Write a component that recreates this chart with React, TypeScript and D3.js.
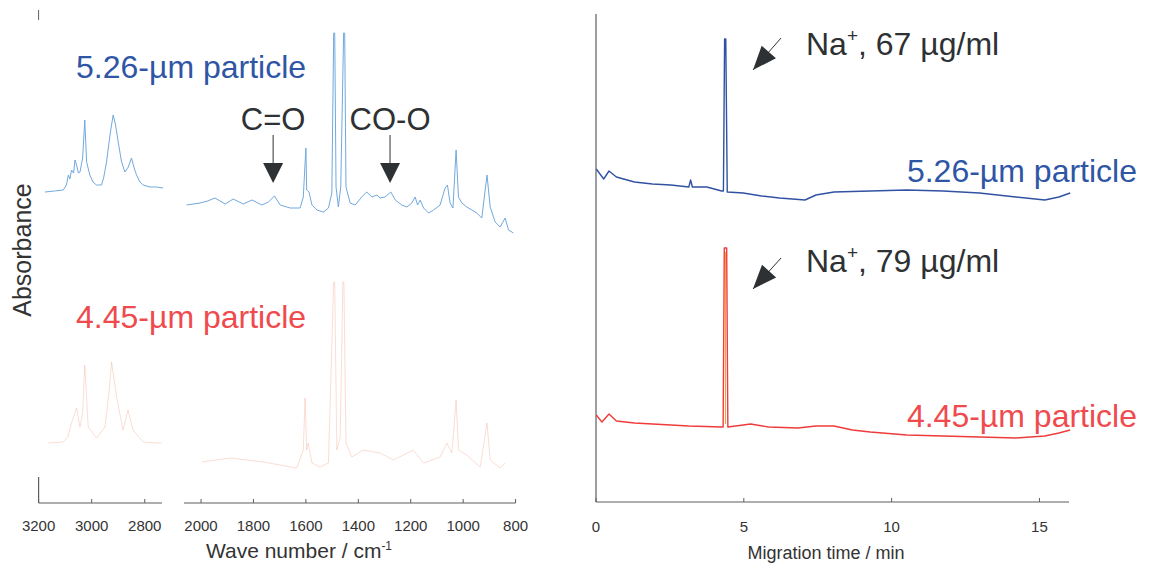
import React from 'react';
import * as d3 from 'd3';

const W = 1149;
const H = 570;
const FONT = '"Liberation Sans", Arial, Helvetica, sans-serif';

// ---- tick labels ----
const IR_TICKS_HIGH = [3200, 3000, 2800];
const IR_TICKS_LOW = [2000, 1800, 1600, 1400, 1200, 1000, 800];
const CE_TICKS = [0, 5, 10, 15];

// ---- IR spectra: [wave number cm-1, absorbance (offset, arb. units)] ----
const IR_BLUE_HIGH: [number, number][] = [
  [3176, 3.11], [3140, 3.12], [3107, 3.13], [3095, 3.18], [3088, 3.28], [3082, 3.24],
  [3076, 3.33], [3068, 3.3], [3063, 3.43], [3057, 3.38], [3050, 3.3], [3044, 3.31],
  [3034, 3.45], [3026, 3.83], [3019, 3.41], [3007, 3.28], [2995, 3.21], [2982, 3.18],
  [2963, 3.18], [2955, 3.25], [2944, 3.41], [2930, 3.7], [2919, 3.88], [2910, 3.78],
  [2900, 3.61], [2888, 3.42], [2875, 3.31], [2862, 3.36], [2850, 3.45], [2840, 3.35],
  [2831, 3.28], [2818, 3.21], [2806, 3.18], [2780, 3.16], [2756, 3.16], [2731, 3.15],
];
const IR_BLUE_LOW: [number, number][] = [
  [2055, 2.98], [2004, 3.0], [1975, 3.02], [1947, 3.05], [1908, 2.99], [1877, 3.04],
  [1839, 2.99], [1806, 3.03], [1768, 2.98], [1743, 3.01], [1720, 3.07], [1698, 2.98],
  [1660, 2.95], [1622, 2.95], [1610, 3.06], [1600, 3.55], [1597, 3.13], [1588, 3.11],
  [1577, 2.98], [1558, 2.93], [1533, 2.91], [1514, 2.95], [1501, 3.1], [1494, 4.7],
  [1490, 4.7], [1485, 3.16], [1476, 2.96], [1467, 3.16], [1456, 4.7], [1452, 4.7],
  [1447, 3.16], [1431, 3.0], [1412, 2.98], [1387, 3.06], [1368, 3.11], [1348, 3.06],
  [1329, 3.08], [1317, 3.05], [1298, 3.06], [1276, 3.11], [1259, 3.03], [1234, 2.98],
  [1215, 2.96], [1196, 3.0], [1183, 3.06], [1174, 2.98], [1164, 3.03], [1151, 2.95],
  [1132, 2.9], [1113, 2.93], [1088, 2.98], [1069, 3.15], [1060, 3.18], [1050, 3.0],
  [1039, 2.95], [1027, 3.53], [1018, 3.06], [1005, 3.0], [986, 2.96], [967, 2.93],
  [948, 2.9], [929, 2.85], [909, 3.28], [897, 2.96], [878, 2.81], [859, 2.76],
  [840, 2.85], [827, 2.73], [808, 2.7],
];
const IR_RED_HIGH: [number, number][] = [
  [3164, 0.6], [3107, 0.61], [3090, 0.66], [3076, 0.8], [3057, 0.95], [3044, 0.76],
  [3034, 0.9], [3026, 1.38], [3013, 0.76], [2982, 0.65], [2950, 0.76], [2935, 1.1],
  [2925, 1.41], [2906, 1.06], [2882, 0.73], [2863, 0.93], [2844, 0.73], [2806, 0.61],
  [2756, 0.6], [2737, 0.6],
];
const IR_RED_LOW: [number, number][] = [
  [1997, 0.41], [1889, 0.45], [1826, 0.43], [1762, 0.41], [1698, 0.38], [1635, 0.35],
  [1610, 0.53], [1603, 1.05], [1597, 0.53], [1591, 0.6], [1577, 0.4], [1546, 0.36],
  [1514, 0.4], [1494, 2.21], [1490, 2.21], [1482, 0.53], [1469, 0.66], [1459, 2.21],
  [1455, 2.21], [1447, 0.6], [1425, 0.46], [1380, 0.53], [1317, 0.5], [1266, 0.43],
  [1190, 0.53], [1151, 0.4], [1088, 0.46], [1062, 0.6], [1043, 0.5], [1027, 1.03],
  [1018, 0.53], [986, 0.48], [935, 0.36], [909, 0.8], [897, 0.43], [859, 0.35],
  [840, 0.4],
];

// ---- capillary electrophoresis traces: [migration time min, signal (offset)] ----
const CE_BLUE: [number, number][] = [
  [0.01, 3.33], [0.26, 3.23], [0.44, 3.31], [0.69, 3.25], [1.3, 3.2], [1.91, 3.18],
  [2.53, 3.17], [3.14, 3.15], [3.2, 3.22], [3.26, 3.15], [3.75, 3.15], [4.25, 3.11],
  [4.31, 3.11], [4.35, 4.63], [4.39, 4.63], [4.44, 3.1], [4.98, 3.09], [5.6, 3.06],
  [6.21, 3.04], [7.07, 3.02], [7.44, 3.07], [8.05, 3.1], [9.28, 3.11], [10.51, 3.12],
  [11.74, 3.11], [12.97, 3.09], [14.2, 3.05], [15.18, 3.02], [15.66, 3.05], [16.04, 3.09],
];
const CE_RED: [number, number][] = [
  [0.01, 0.87], [0.2, 0.8], [0.44, 0.88], [0.69, 0.81], [1.3, 0.79], [2.53, 0.77],
  [3.14, 0.76], [4.25, 0.75], [4.3, 0.75], [4.34, 2.54], [4.42, 2.54], [4.46, 0.75],
  [4.98, 0.77], [5.23, 0.78], [5.84, 0.75], [6.83, 0.74], [7.44, 0.76], [8.05, 0.76],
  [8.67, 0.72], [9.28, 0.7], [10.51, 0.67], [11.74, 0.66], [12.97, 0.65], [14.2, 0.64],
  [15.18, 0.66], [15.66, 0.69], [16.04, 0.72],
];

// ---- annotations ----
const IR_MARKERS = [
  { label: 'C=O', wn: 1725 },
  { label: 'CO-O', wn: 1279 },
];
const NA_CONC = ['67 µg/ml', '79 µg/ml'];
// arrow tail/tip in (min, signal)
const NA_ARROWS: [number, number, number, number][] = [
  [6.26, 4.64, 5.31, 4.32],
  [6.26, 2.44, 5.31, 2.13],
];

const BLUE_TEXT = '#2f55a5';
const RED_TEXT = '#ef4a4d';
const DARK = '#2e3133';
const AXIS = '#5a5f60';

export default function App() {
  const xHigh = d3.scaleLinear().domain([3200, 2735]).range([38.6, 162]);
  const xLow = d3.scaleLinear().domain([2065, 800]).range([184, 515.6]);
  const yIR = d3.scaleLinear().domain([0, 5]).range([503, 3]);
  const xCE = d3.scaleLinear().domain([0, 16]).range([596, 1069]);
  const yCE = d3.scaleLinear().domain([0, 5]).range([502, 2]);

  const lineHigh = d3.line<[number, number]>().x(d => xHigh(d[0])).y(d => yIR(d[1]));
  const lineLow = d3.line<[number, number]>().x(d => xLow(d[0])).y(d => yIR(d[1]));
  const lineCE = d3.line<[number, number]>().x(d => xCE(d[0])).y(d => yCE(d[1]));

  const axisY = 503;
  const ceAxisY = 502;

  const arrowHead = (x1: number, y1: number, x2: number, y2: number, len: number, half: number) => {
    const dx = x2 - x1, dy = y2 - y1;
    const L = Math.hypot(dx, dy);
    const ux = dx / L, uy = dy / L;
    const bx = x2 - ux * len, by = y2 - uy * len;
    const px = -uy, py = ux;
    return `M${x2},${y2}L${bx + px * half},${by + py * half}L${bx - px * half},${by - py * half}Z`;
  };

  return (
    <svg width={W} height={H} viewBox={`0 0 ${W} ${H}`}
      style={{ position: 'absolute', left: 0, top: 0, background: '#fff', fontFamily: FONT }}>
      <rect x={0} y={0} width={W} height={H} fill="#fff" />

      {/* ---------------- LEFT: IR spectra ---------------- */}
      <line x1={38.6} x2={38.6} y1={10} y2={20} stroke={AXIS} strokeWidth={1} />
      <line x1={38.6} x2={38.6} y1={477} y2={axisY} stroke={AXIS} strokeWidth={1.2} />

      <line x1={xHigh(3200)} x2={xHigh(2735)} y1={axisY} y2={axisY} stroke={AXIS} strokeWidth={1.2} />
      <line x1={xLow(2065)} x2={xLow(800)} y1={axisY} y2={axisY} stroke={AXIS} strokeWidth={1.2} />
      {IR_TICKS_HIGH.map(t => (
        <g key={'h' + t}>
          <line x1={xHigh(t)} x2={xHigh(t)} y1={axisY} y2={axisY - 4} stroke={AXIS} />
          <text x={xHigh(t)} y={531} textAnchor="middle" fontSize={15} fill="#333">{t}</text>
        </g>
      ))}
      {IR_TICKS_LOW.map(t => (
        <g key={'l' + t}>
          <line x1={xLow(t)} x2={xLow(t)} y1={axisY} y2={axisY - 4} stroke={AXIS} />
          <text x={xLow(t)} y={531} textAnchor="middle" fontSize={15} fill="#333">{t}</text>
        </g>
      ))}
      <text x={299} y={558} textAnchor="middle" fontSize={21} fill="#333">
        Wave number / cm<tspan dy={-8} fontSize={12}>-1</tspan>
      </text>
      <text transform="translate(31,250) rotate(-90)" textAnchor="middle" fontSize={25} fill="#333">Absorbance</text>

      <path d={lineHigh(IR_BLUE_HIGH) || ''} fill="none" stroke="#72a9de" strokeWidth={1} />
      <path d={lineLow(IR_BLUE_LOW) || ''} fill="none" stroke="#72a9de" strokeWidth={1} />
      <path d={lineHigh(IR_RED_HIGH) || ''} fill="none" stroke="#f5a58c" strokeWidth={0.7} opacity={0.55} />
      <path d={lineLow(IR_RED_LOW) || ''} fill="none" stroke="#f5a58c" strokeWidth={0.7} opacity={0.55} />

      <text x={76} y={78} fontSize={32} fill={BLUE_TEXT}>5.26-µm particle</text>
      <text x={76} y={328} fontSize={32} fill={RED_TEXT}>4.45-µm particle</text>

      {IR_MARKERS.map(m => {
        const x = xLow(m.wn);
        return (
          <g key={m.label}>
            <text x={x} y={130} textAnchor="middle" fontSize={31} fill={DARK}>{m.label}</text>
            <line x1={x} x2={x} y1={yIR(3.68)} y2={yIR(3.4)} stroke={DARK} strokeWidth={1} />
            <path d={`M${x - 10},${yIR(3.4)}L${x + 10},${yIR(3.4)}L${x},${yIR(3.2)}Z`} fill={DARK} />
          </g>
        );
      })}

      {/* ---------------- RIGHT: CE electropherograms ---------------- */}
      <line x1={xCE(0)} x2={xCE(0)} y1={14} y2={ceAxisY} stroke={AXIS} strokeWidth={1.2} />
      <line x1={xCE(0)} x2={xCE(16)} y1={ceAxisY} y2={ceAxisY} stroke={AXIS} strokeWidth={1.2} />
      {CE_TICKS.map(t => (
        <g key={'c' + t}>
          <line x1={xCE(t)} x2={xCE(t)} y1={ceAxisY} y2={ceAxisY - 4} stroke={AXIS} />
          <text x={xCE(t)} y={532} textAnchor="middle" fontSize={15} fill="#333">{t}</text>
        </g>
      ))}
      <text x={826} y={559} textAnchor="middle" fontSize={18} fill="#333">Migration time / min</text>

      <path d={lineCE(CE_BLUE) || ''} fill="none" stroke="#3152a3" strokeWidth={1.4} strokeLinejoin="round" />
      <path d={lineCE(CE_RED) || ''} fill="none" stroke="#ef3b3b" strokeWidth={1.4} strokeLinejoin="round" />
      <line x1={xCE(4.38)} x2={xCE(4.38)} y1={yCE(2.5)} y2={yCE(0.78)} stroke="#f6a13a" strokeWidth={1} />

      {NA_ARROWS.map((a, i) => {
        const x1 = xCE(a[0]), y1 = yCE(a[1]), x2 = xCE(a[2]), y2 = yCE(a[3]);
        return (
          <g key={'a' + i}>
            <line x1={x1} y1={y1} x2={x2} y2={y2} stroke={DARK} strokeWidth={1} />
            <path d={arrowHead(x1, y1, x2, y2, 24, 9.5)} fill={DARK} />
          </g>
        );
      })}
      {NA_CONC.map((c, i) => (
        <text key={'n' + i} x={806} y={i === 0 ? 55 : 272} fontSize={32} fill={DARK}>
          Na<tspan dy={-13} fontSize={19}>+</tspan><tspan dy={13}>, {c}</tspan>
        </text>
      ))}

      <text x={1137} y={182} textAnchor="end" fontSize={32} fill={BLUE_TEXT}>5.26-µm particle</text>
      <text x={1137} y={427} textAnchor="end" fontSize={32} fill={RED_TEXT}>4.45-µm particle</text>
    </svg>
  );
}
